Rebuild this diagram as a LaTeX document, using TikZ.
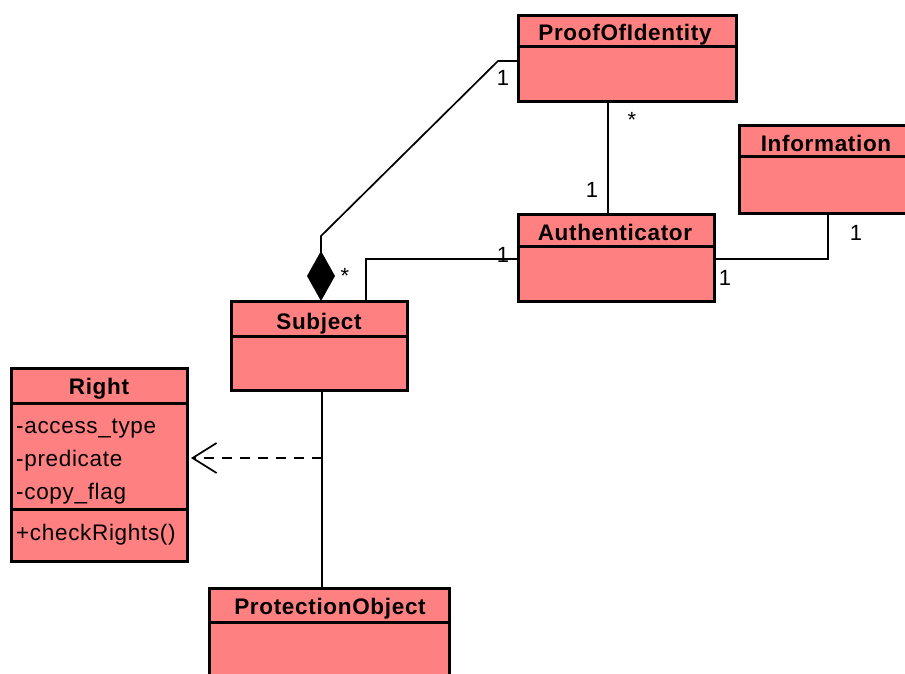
\documentclass[tikz,border=0pt]{standalone}
\usepackage{fontspec}
\setmainfont{Liberation Sans}[LetterSpace=3]
\usetikzlibrary{arrows.meta,calc}
\definecolor{classfill}{RGB}{255,128,128}

\begin{document}
\begin{tikzpicture}[x=1pt,y=-1pt,
  cls/.style={draw=black, line width=3pt, fill=classfill, rectangle,
              anchor=north west, inner sep=0pt, outer sep=0pt},
  divider/.style={line width=3pt, draw=black},
  title/.style={font=\fontsize{22.5}{26}\selectfont\bfseries, inner sep=0pt, anchor=base},
  attr/.style={font=\fontsize{22.5}{26}\selectfont, inner sep=0pt, anchor=base west},
  mult/.style={font=\fontsize{22}{26}\selectfont, inner sep=0pt, anchor=base},
  assoc/.style={line width=1.7pt, draw=black},
  depend/.style={line width=1.7pt, draw=black, dash pattern=on 10pt off 8pt,
                 -{Straight Barb[length=24pt,width=30pt,line width=1.7pt]}}]

\useasboundingbox (0,0) rectangle (905,674);
\clip (0,0) rectangle (905,674);

% class boxes
\node[cls, minimum width=218pt, minimum height=86pt] (poi)  at (518,16)  {};
\node[cls, minimum width=180pt, minimum height=87pt] (info) at (739,126) {};
\node[cls, minimum width=196pt, minimum height=87pt] (auth) at (518,214) {};
\node[cls, minimum width=176pt, minimum height=89pt] (subj) at (231,301) {};
\node[cls, minimum width=176pt, minimum height=193pt] (rght) at (11,368) {};
\node[cls, minimum width=240pt, minimum height=110pt] (prot) at (209,588) {};

% compartment dividers
\draw[divider] ($(poi.north west)+(0,31)$)  -- ($(poi.north east)+(0,31)$);
\draw[divider] ($(info.north west)+(0,31)$) -- ($(info.north east)+(0,31)$);
\draw[divider] ($(auth.north west)+(0,32)$) -- ($(auth.north east)+(0,32)$);
\draw[divider] ($(subj.north west)+(0,35)$) -- ($(subj.north east)+(0,35)$);
\draw[divider] ($(rght.north west)+(0,35)$) -- ($(rght.north east)+(0,35)$);
\draw[divider] ($(rght.north west)+(0,141)$) -- ($(rght.north east)+(0,141)$);
\draw[divider] ($(prot.north west)+(0,34)$) -- ($(prot.north east)+(0,34)$);

% class names
\node[title] (poi-t)  at (625,41)  {ProofOfIdentity};
\node[title] (info-t) at (826,152) {Information};
\node[title] (auth-t) at (615,240) {Authenticator};
\node[title] (subj-t) at (319,329) {Subject};
\node[title] (rght-t) at (99,394)  {Right};
\node[title] (prot-t) at (330,614) {ProtectionObject};

% attributes and operations of Right
\node[attr] (rght-a1) at (16,433) {-access\_type};
\node[attr] (rght-a2) at (16,466) {-predicate};
\node[attr] (rght-a3) at (16,499) {-copy\_flag};
\node[attr] (rght-o1) at (16,540) {+checkRights()};

% connection points
\coordinate (poiL)   at ($(poi.north west)+(0,45)$);
\coordinate (bend1)  at (498,61);
\coordinate (bend2)  at (321,236);
\coordinate (subjTop) at (321,301);
\coordinate (authL)  at ($(auth.north west)+(0,45)$);
\coordinate (authR)  at ($(auth.north east)+(0,45)$);
\coordinate (bend3)  at (366,259);
\coordinate (bend4)  at (828,259);
\coordinate (dep)    at (322,458);

% composition: Subject (whole) -- ProofOfIdentity
\draw[assoc, {Diamond[length=50pt,width=28pt,fill=black]}-]
  (subjTop) -- (bend2) -- (bend1) -- (poiL);

% associations
\draw[assoc] (poi.south -| 608,0) -- (auth.north -| 608,0);
\draw[assoc] (authR) -- (bend4) -- (info.south -| bend4);
\draw[assoc] (authL) -- (bend3) -- (subj.north -| bend3);
\draw[assoc] (subj.south -| dep) -- (prot.north -| dep);

% dependency on Right
\draw[depend] (dep) -- ($(rght.east |- dep)+(4,0)$);

% multiplicities
\node[mult] (m1) at (503,86)  {1};
\node[mult] (m2) at (632,128) {*};
\node[mult] (m3) at (592,197) {1};
\node[mult] (m4) at (503,262) {1};
\node[mult] (m5) at (856,240) {1};
\node[mult] (m6) at (725,285) {1};
\node[mult] (m7) at (345,283) {*};

\end{tikzpicture}
\end{document}
